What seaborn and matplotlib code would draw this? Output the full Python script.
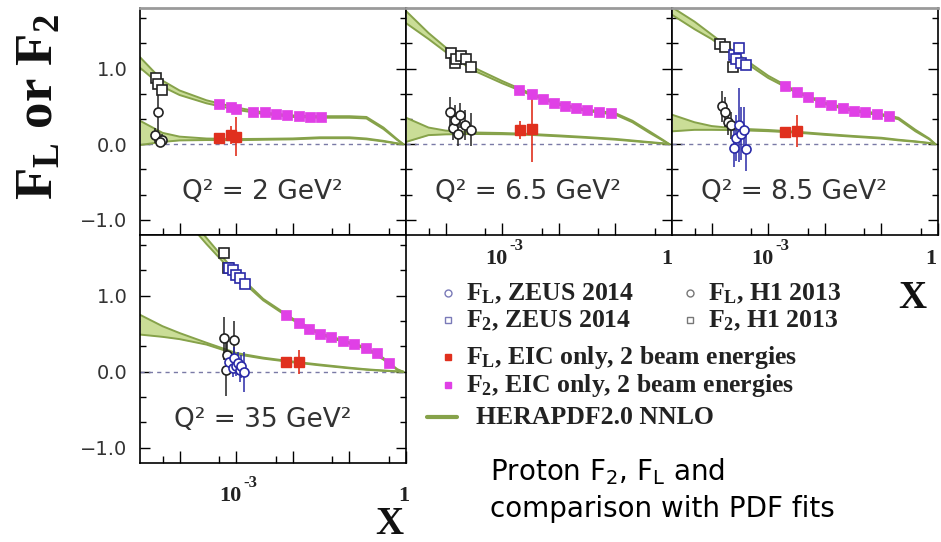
#!/usr/bin/env python3
"""Proton F2 / FL vs x in four Q2 bins, with EIC pseudo-data and HERAPDF2.0 band."""

import numpy as np
import matplotlib

matplotlib.use("Agg")
import matplotlib.pyplot as plt
import matplotlib.transforms as mtransforms
from matplotlib.lines import Line2D
from matplotlib.ticker import FixedLocator, FuncFormatter, LogLocator, NullFormatter
import seaborn as sns

# ---- theory grid (HERAPDF2.0 NNLO), one curve per Q2 bin ----
X_TH = [2e-5, 5e-5, 1e-4, 3e-4, 1e-3, 3e-3, 1e-2, 3e-2, 0.1, 0.2, 0.4, 0.7, 0.9]

F2_TH_2 = [1.08, 0.80, 0.68, 0.56, 0.47, 0.41, 0.37, 0.36, 0.36, 0.35, 0.21, 0.06, 0.0]
F2_BAND_2 = [0.07, 0.04, 0.03, 0.02, 0.015, 0.01, 0.01, 0.01, 0.01, 0.01, 0.01, 0.005, 0.0]
FL_TH_2 = [0.15, 0.09, 0.075, 0.065, 0.06, 0.065, 0.07, 0.085, 0.085, 0.07, 0.04, 0.01, 0.0]
FL_BAND_2 = [0.16, 0.06, 0.025, 0.01, 0.008, 0.006, 0.006, 0.006, 0.006, 0.005, 0.004, 0.002, 0.0]

F2_TH_6 = [1.68, 1.43, 1.25, 1.0, 0.82, 0.67, 0.53, 0.45, 0.40, 0.30, 0.16, 0.05, 0.0]
F2_BAND_6 = [0.08, 0.04, 0.03, 0.02, 0.015, 0.01, 0.01, 0.01, 0.01, 0.01, 0.01, 0.005, 0.0]
FL_TH_6 = [0.19, 0.17, 0.155, 0.145, 0.14, 0.13, 0.11, 0.09, 0.065, 0.045, 0.025, 0.01, 0.0]
FL_BAND_6 = [0.16, 0.05, 0.025, 0.01, 0.008, 0.006, 0.006, 0.005, 0.005, 0.004, 0.003, 0.002, 0.0]

F2_TH_8 = [1.76, 1.57, 1.42, 1.16, 0.89, 0.70, 0.54, 0.45, 0.39, 0.34, 0.18, 0.07, 0.0]
F2_BAND_8 = [0.05, 0.05, 0.03, 0.02, 0.015, 0.01, 0.01, 0.01, 0.01, 0.01, 0.01, 0.005, 0.0]
FL_TH_8 = [0.28, 0.24, 0.215, 0.195, 0.18, 0.16, 0.13, 0.105, 0.08, 0.055, 0.035, 0.015, 0.0]
FL_BAND_8 = [0.11, 0.05, 0.025, 0.01, 0.008, 0.006, 0.006, 0.005, 0.005, 0.004, 0.003, 0.002, 0.0]

F2_TH_35 = [2.9, 2.45, 2.15, 1.72, 1.28, 0.95, 0.69, 0.50, 0.38, 0.31, 0.17, 0.03, 0.0]
F2_BAND_35 = [0.10, 0.08, 0.06, 0.04, 0.02, 0.01, 0.01, 0.01, 0.01, 0.01, 0.01, 0.005, 0.0]
FL_TH_35 = [0.62, 0.53, 0.47, 0.37, 0.24, 0.18, 0.13, 0.09, 0.05, 0.03, 0.015, 0.005, 0.0]
FL_BAND_35 = [0.13, 0.07, 0.04, 0.012, 0.008, 0.006, 0.005, 0.005, 0.004, 0.003, 0.002, 0.001, 0.0]

# ---- Q2 = 2 GeV2 ----
H1_F2_X_2 = [3.8e-5, 4.2e-5, 4.8e-5]
H1_F2_Y_2 = [0.87, 0.80, 0.71]
H1_FL_X_2 = [4.1e-5, 3.7e-5, 4.8e-5, 4.5e-5]
H1_FL_Y_2 = [0.42, 0.12, 0.05, 0.03]
H1_FL_E_2 = [0.38, 0.10, 0.08, 0.06]
EIC_F2_X_2 = [5e-4, 8e-4, 1e-3, 2e-3, 3.2e-3, 5e-3, 8e-3, 1.3e-2, 2e-2, 3.2e-2]
EIC_F2_Y_2 = [0.53, 0.49, 0.47, 0.43, 0.42, 0.40, 0.39, 0.37, 0.36, 0.36]
EIC_FL_X_2 = [5e-4, 8e-4, 1e-3]
EIC_FL_Y_2 = [0.086, 0.12, 0.10]
EIC_FL_E_2 = [0.03, 0.12, 0.26]

# ---- Q2 = 6.5 GeV2 ----
H1_F2_X_6 = [1.26e-4, 1.45e-4, 1.55e-4, 1.9e-4, 2.3e-4, 2.8e-4]
H1_F2_Y_6 = [1.20, 1.07, 1.13, 1.16, 1.13, 1.02]
H1_FL_X_6 = [1.18e-4, 1.35e-4, 1.45e-4, 1.67e-4, 1.8e-4, 2.2e-4, 2.8e-4]
H1_FL_Y_6 = [0.43, 0.21, 0.32, 0.14, 0.38, 0.25, 0.19]
H1_FL_E_6 = [0.20, 0.15, 0.20, 0.17, 0.17, 0.20, 0.22]
EIC_F2_X_6 = [2.0e-3, 3.4e-3, 5.2e-3, 8.1e-3, 1.3e-2, 2.0e-2, 3.2e-2, 5.1e-2, 8.4e-2]
EIC_F2_Y_6 = [0.716, 0.659, 0.597, 0.548, 0.509, 0.474, 0.447, 0.421, 0.408]
EIC_FL_X_6 = [2.1e-3, 3.4e-3]
EIC_FL_Y_6 = [0.19, 0.20]
EIC_FL_E_6 = [0.12, 0.44]

# ---- Q2 = 8.5 GeV2 ----
H1_F2_X_8 = [1.39e-4, 1.7e-4, 2.4e-4]
H1_F2_Y_8 = [1.33, 1.29, 1.02]
ZEUS_F2_X_8 = [2.5e-4, 2.7e-4, 3.1e-4, 3.3e-4, 4.1e-4]
ZEUS_F2_Y_8 = [1.18, 1.12, 1.27, 1.07, 1.05]
H1_FL_X_8 = [1.5e-4, 1.7e-4, 1.95e-4, 2.2e-4]
H1_FL_Y_8 = [0.50, 0.43, 0.30, 0.25]
H1_FL_E_8 = [0.20, 0.20, 0.18, 0.18]
ZEUS_FL_X_8 = [2.5e-4, 2.7e-4, 3.1e-4, 3.3e-4, 3.8e-4, 4.1e-4]
ZEUS_FL_Y_8 = [-0.05, 0.08, 0.25, 0.14, 0.19, -0.06]
ZEUS_FL_E_8 = [0.25, 0.30, 0.49, 0.35, 0.30, 0.30]
EIC_F2_X_8 = [2.0e-3, 3.25e-3, 5.1e-3, 8.3e-3, 1.3e-2, 2.1e-2, 3.3e-2, 5.2e-2, 8.2e-2, 0.134]
EIC_F2_Y_8 = [0.773, 0.686, 0.628, 0.561, 0.518, 0.474, 0.439, 0.421, 0.399, 0.376]
EIC_FL_X_8 = [2.0e-3, 3.2e-3]
EIC_FL_Y_8 = [0.165, 0.175]
EIC_FL_E_8 = [0.04, 0.21]

# ---- Q2 = 35 GeV2 ----
H1_F2_X_35 = [6.2e-4, 7.1e-4]
H1_F2_Y_35 = [1.56, 1.36]
ZEUS_F2_X_35 = [7.6e-4, 8.7e-4, 1.0e-3, 1.15e-3, 1.46e-3]
ZEUS_F2_Y_35 = [1.36, 1.34, 1.27, 1.23, 1.16]
H1_FL_X_35 = [6.2e-4, 9.0e-4, 7.0e-4, 6.5e-4]
H1_FL_Y_35 = [0.44, 0.42, 0.22, 0.03]
H1_FL_E_35 = [0.28, 0.25, 0.20, 0.35]
ZEUS_FL_X_35 = [7.6e-4, 8.7e-4, 9.3e-4, 1.0e-3, 1.07e-3, 1.15e-3, 1.22e-3, 1.4e-3]
ZEUS_FL_Y_35 = [0.13, 0.05, 0.18, 0.07, 0.11, 0.02, 0.07, 0.0]
ZEUS_FL_E_35 = [0.15, 0.12, 0.15, 0.12, 0.15, 0.15, 0.15, 0.26]
EIC_F2_X_35 = [7.6e-3, 1.27e-2, 1.96e-2, 3.07e-2, 4.74e-2, 7.6e-2, 0.122, 0.196, 0.307, 0.492]
EIC_F2_Y_35 = [0.747, 0.638, 0.563, 0.497, 0.462, 0.405, 0.362, 0.309, 0.243, 0.112]
EIC_FL_X_35 = [7.6e-3, 1.27e-2]
EIC_FL_Y_35 = [0.13, 0.13]
EIC_FL_E_35 = [0.03, 0.16]

Q2_LABELS = ["Q\u00b2 = 2 GeV\u00b2", "Q\u00b2 = 6.5 GeV\u00b2", "Q\u00b2 = 8.5 GeV\u00b2", "Q\u00b2 = 35 GeV\u00b2"]

BAND_FILL = "#cadd97"
BAND_EDGE = "#86a24a"
MAGENTA = "#e040e6"
RED = "#e0301e"
BLUE = "#2a2aa8"
BLACK = "#222222"
ZERO_LINE = "#7a7aa6"

SERIF = "Liberation Serif"
SANS = "DejaVu Sans"

W, H = 941, 542

sns.set_theme(style="ticks")
plt.rcParams.update({
    "font.family": SANS,
    "mathtext.fontset": "stix",
    "axes.edgecolor": "black",
    "axes.linewidth": 1.2,
})

fig = plt.figure(figsize=(W / 100, H / 100), dpi=100)


def fx(px):
    return px / W


def fy(py):
    return 1 - py / H


def add_panel(left, top, width, height):
    return fig.add_axes([fx(left), fy(top + height), width / W, height / H])


def draw_theory(ax, center, half):
    x = np.array(X_TH)
    c = np.array(center)
    h = np.array(half)
    ax.fill_between(x, c - h, c + h, color=BAND_FILL, lw=0, zorder=1)
    for edge in (c + h, c - h):
        sns.lineplot(x=x, y=edge, ax=ax, color=BAND_EDGE, lw=1.4, zorder=2,
                     estimator=None, sort=False, legend=False)


def draw_open(ax, series, color, marker):
    x, y = series[0], series[1]
    yerr = series[2] if len(series) > 2 else None
    ax.errorbar(x, y, yerr=yerr, fmt=marker, mfc="white", mec=color, ecolor=color,
                ms=6.5, mew=1.2, elinewidth=1.1, capsize=0, zorder=4)


def draw_panel(ax, label, f2_th, f2_band, fl_th, fl_band, pts):
    ax.set_xscale("log")
    ax.set_xlim(2e-5, 1.0)
    ax.set_ylim(-1.2, 1.8)
    ax.axhline(0, color=ZERO_LINE, lw=1.0, ls=(0, (3, 3)), zorder=1.5)
    draw_theory(ax, f2_th, f2_band)
    draw_theory(ax, fl_th, fl_band)

    if "h1_fl" in pts:
        draw_open(ax, pts["h1_fl"], BLACK, "o")
    if "zeus_fl" in pts:
        draw_open(ax, pts["zeus_fl"], BLUE, "o")
    if "h1_f2" in pts:
        draw_open(ax, pts["h1_f2"], BLACK, "s")
    if "zeus_f2" in pts:
        draw_open(ax, pts["zeus_f2"], BLUE, "s")

    ex, ey, ee = pts["eic_fl"]
    ax.errorbar(ex, ey, yerr=ee, fmt="s", color=RED, ms=6.5, elinewidth=1.2,
                capsize=0, zorder=5)
    fx2, fy2 = pts["eic_f2"]
    sns.scatterplot(x=fx2, y=fy2, ax=ax, marker="s", s=45, color=MAGENTA,
                    edgecolor=MAGENTA, linewidth=0.5, zorder=5, legend=False)

    ax.xaxis.set_major_locator(LogLocator(base=10, numticks=10))
    ax.xaxis.set_minor_locator(LogLocator(base=10, subs=[5.0], numticks=10))
    ax.xaxis.set_major_formatter(NullFormatter())
    ax.xaxis.set_minor_formatter(NullFormatter())
    ax.yaxis.set_major_locator(FixedLocator([-1.0, 0.0, 1.0]))
    ax.yaxis.set_minor_locator(FixedLocator([v / 3 for v in range(-3, 6)]))
    ax.yaxis.set_major_formatter(FuncFormatter(lambda v, p: f"{v:.1f}".replace("-", "\u2212")))
    ax.tick_params(axis="both", which="both", direction="in", top=False, right=True,
                   colors="black", labelcolor="#333333", labelsize=14, pad=9)
    ax.tick_params(axis="x", which="major", length=9, width=1.0)
    ax.tick_params(axis="x", which="minor", length=5, width=1.0)
    ax.tick_params(axis="y", which="major", length=7, width=1.0)
    ax.tick_params(axis="y", which="minor", length=4, width=1.0)
    ax.set_xlabel("")
    ax.set_ylabel("")
    ax.text(0.46, 0.19, label, transform=ax.transAxes, ha="center", va="center",
            fontsize=19, family=SANS, color="#333333")


def x_labels(ax, drop, one_shift):
    # ROOT-style "10^-3" and "1" under the axis; offsets in pixels
    base = ax.get_xaxis_transform()
    style = dict(family=SERIF, weight="bold", color="#222222", va="baseline")
    t = mtransforms.offset_copy(base, fig=fig, x=-6, y=-drop, units="dots")
    ax.text(1e-3, 0, "10", transform=t, ha="center", fontsize=16, **style)
    t = mtransforms.offset_copy(base, fig=fig, x=7, y=-drop + 14, units="dots")
    ax.text(1e-3, 0, "-3", transform=t, ha="left", fontsize=12, **style)
    t = mtransforms.offset_copy(base, fig=fig, x=one_shift, y=-drop, units="dots")
    ax.text(1.0, 0, "1", transform=t, ha="center", fontsize=16, **style)


ax1 = add_panel(140, 8, 266, 227)
ax2 = add_panel(406, 8, 266, 227)
ax3 = add_panel(672, 8, 266, 227)
ax4 = add_panel(140, 235, 266, 228)

draw_panel(ax1, Q2_LABELS[0], F2_TH_2, F2_BAND_2, FL_TH_2, FL_BAND_2, {
    "h1_f2": (H1_F2_X_2, H1_F2_Y_2),
    "h1_fl": (H1_FL_X_2, H1_FL_Y_2, H1_FL_E_2),
    "eic_f2": (EIC_F2_X_2, EIC_F2_Y_2),
    "eic_fl": (EIC_FL_X_2, EIC_FL_Y_2, EIC_FL_E_2),
})
draw_panel(ax2, Q2_LABELS[1], F2_TH_6, F2_BAND_6, FL_TH_6, FL_BAND_6, {
    "h1_f2": (H1_F2_X_6, H1_F2_Y_6),
    "h1_fl": (H1_FL_X_6, H1_FL_Y_6, H1_FL_E_6),
    "eic_f2": (EIC_F2_X_6, EIC_F2_Y_6),
    "eic_fl": (EIC_FL_X_6, EIC_FL_Y_6, EIC_FL_E_6),
})
draw_panel(ax3, Q2_LABELS[2], F2_TH_8, F2_BAND_8, FL_TH_8, FL_BAND_8, {
    "h1_f2": (H1_F2_X_8, H1_F2_Y_8),
    "zeus_f2": (ZEUS_F2_X_8, ZEUS_F2_Y_8),
    "h1_fl": (H1_FL_X_8, H1_FL_Y_8, H1_FL_E_8),
    "zeus_fl": (ZEUS_FL_X_8, ZEUS_FL_Y_8, ZEUS_FL_E_8),
    "eic_f2": (EIC_F2_X_8, EIC_F2_Y_8),
    "eic_fl": (EIC_FL_X_8, EIC_FL_Y_8, EIC_FL_E_8),
})
draw_panel(ax4, Q2_LABELS[3], F2_TH_35, F2_BAND_35, FL_TH_35, FL_BAND_35, {
    "h1_f2": (H1_F2_X_35, H1_F2_Y_35),
    "zeus_f2": (ZEUS_F2_X_35, ZEUS_F2_Y_35),
    "h1_fl": (H1_FL_X_35, H1_FL_Y_35, H1_FL_E_35),
    "zeus_fl": (ZEUS_FL_X_35, ZEUS_FL_Y_35, ZEUS_FL_E_35),
    "eic_f2": (EIC_F2_X_35, EIC_F2_Y_35),
    "eic_fl": (EIC_FL_X_35, EIC_FL_Y_35, EIC_FL_E_35),
})

for ax in (ax2, ax3):
    ax.tick_params(axis="y", labelleft=False)
for ax in (ax1, ax2, ax3):
    ax.spines["top"].set_color("#9a9a9a")
    ax.spines["top"].set_linewidth(2.0)
x_labels(ax2, drop=29, one_shift=-5)
x_labels(ax3, drop=29, one_shift=-7)
x_labels(ax4, drop=38, one_shift=-2)

# axis titles
fig.text(fx(40), fy(107), r"F$\mathregular{_L}$ or F$\mathregular{_2}$", rotation=90,
         ha="center", va="center", fontsize=38, family=SERIF, weight="bold", color="#111111")
fig.text(fx(912), fy(298), "X", ha="center", va="center", fontsize=28, family=SERIF,
         weight="bold", color="#111111")
fig.text(fx(389), fy(525), "X", ha="center", va="center", fontsize=28, family=SERIF,
         weight="bold", color="#111111")

# legend drawn by hand (two-column first rows, as in the original)
LEG_TEXT = dict(fontsize=18.5, family=SERIF, weight="bold", color="#222222", va="baseline")


def leg_marker(px, py, marker, color, filled):
    fig.add_artist(Line2D([fx(px)], [fy(py)], transform=fig.transFigure, marker=marker,
                          ms=5, mew=1.0, mec=color,
                          mfc=color if filled else "white", ls="none"))


leg_marker(448, 293, "o", "#7a7ab8", False)
fig.text(fx(466), fy(300), r"F$\mathregular{_L}$, ZEUS 2014", **LEG_TEXT)
leg_marker(690, 293, "o", "#777777", False)
fig.text(fx(708), fy(300), r"F$\mathregular{_L}$, H1 2013", **LEG_TEXT)
leg_marker(448, 320, "s", "#7a7ab8", False)
fig.text(fx(466), fy(327), r"F$\mathregular{_2}$, ZEUS 2014", **LEG_TEXT)
leg_marker(690, 320, "s", "#777777", False)
fig.text(fx(708), fy(327), r"F$\mathregular{_2}$, H1 2013", **LEG_TEXT)
leg_marker(448, 357, "s", RED, True)
fig.text(fx(466), fy(364), r"F$\mathregular{_L}$, EIC only, 2 beam energies", **LEG_TEXT)
leg_marker(448, 385, "s", MAGENTA, True)
fig.text(fx(466), fy(392), r"F$\mathregular{_2}$, EIC only, 2 beam energies", **LEG_TEXT)
fig.add_artist(Line2D([fx(427), fx(457)], [fy(417), fy(417)], transform=fig.transFigure,
                      color=BAND_EDGE, lw=3))
fig.text(fx(476), fy(424), "HERAPDF2.0 NNLO", **LEG_TEXT)

# caption
fig.text(fx(490), fy(480), r"Proton F$\mathregular{_2}$, F$\mathregular{_L}$ and",
         fontsize=20, family=SANS, color="black", va="baseline")
fig.text(fx(490), fy(517), "comparison with PDF fits",
         fontsize=20, family=SANS, color="black", va="baseline")

fig.savefig("out.png", dpi=100)
plt.close(fig)
